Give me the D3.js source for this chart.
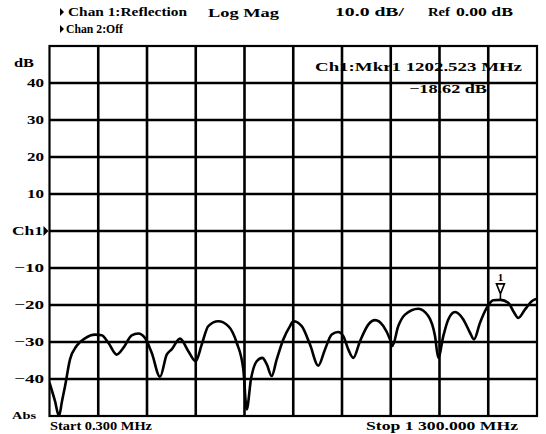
<!DOCTYPE html>
<html><head><meta charset="utf-8">
<script src="https://cdn.jsdelivr.net/npm/d3@7/dist/d3.min.js"></script>
<style>
body{margin:0;background:#fff}
text{font-family:"Liberation Serif","DejaVu Serif",serif;font-weight:bold;fill:#000}
</style>
</head><body>
<svg id="chart" width="546" height="434"></svg>
<script>
// Reflection trace, channel 1 (frequency in MHz, magnitude in dB)
const freqMHz = [0.3, 15, 25.6, 33.6, 41.6, 55, 72.8, 94.9, 121.6, 139.5, 157.1, 179.5, 197.1, 219.4, 237.0, 254.9,
  272.8, 294.9, 312.8, 326.1, 348.2, 370.4, 390.1, 406.1, 423.7, 450.3, 477.0, 499.4, 517.0, 526.1, 537.5,
  552.7, 567.6, 579.4, 592.7, 606.0, 623.6, 641.5, 650.3, 672.7, 694.8, 716.9, 734.8, 752.7, 770.2, 783.6,
  796.9, 810.2, 828.1, 850.2, 868.1, 890.2, 908.1, 914.2, 930.2, 948.1, 983.5, 1010.2, 1028.1, 1036.9,
  1050.2, 1063.5, 1081.4, 1103.6, 1121.4, 1132.1, 1148.1, 1165.9, 1183.5, 1202.523, 1223.5, 1236.9,
  1250.2, 1268.1, 1286.0, 1300];
const magDb = [-41, -46, -50, -46, -42, -34.7, -31, -29, -28, -28.2, -30.2, -33.4, -31.6, -28.2, -27.7, -28.9,
  -32.9, -39.4, -33.4, -32, -29.1, -32.5, -35.2, -30.7, -25.7, -24.4, -25.7, -30.2, -37.4, -48.2, -40,
  -35.2, -34.3, -36, -39.2, -34.7, -29.3, -25.7, -24.4, -25.7, -30.7, -36.4, -32, -28, -27.3, -28.4,
  -32, -34.3, -29.8, -25.3, -24.1, -25.7, -29.3, -31.1, -25.7, -22.6, -21, -23, -28.4, -34.3,
  -28.4, -23.9, -21.9, -23.9, -27.5, -29.3, -24.8, -20.8, -18.7, -18.62, -19.4, -21.7,
  -23.5, -21.2, -19, -18.3];

const yTicks = [40, 30, 20, 10, 0, -10, -20, -30, -40];
const yTickLabels = ["40", "30", "20", "10", "Ch1", "\u221210", "\u221220", "\u221230", "\u221240"];
const markerFreq = 1202.523;
const markerDb = -18.62;
const startMHz = 0.3, stopMHz = 1300;

const svg = d3.select("#chart");
const L = 49.5, R = 537, T = 46, B = 416;

const x = d3.scaleLinear().domain([startMHz, stopMHz]).range([L, R]);
const y = d3.scaleLinear().domain([-50, 50]).range([B, T]);

// bold, wide instrument-style label with a fixed advance
function label(g, tx, ty, str, len, size, anchor) {
  return g.append("text").attr("x", tx).attr("y", ty).attr("font-size", size || 12.5)
    .attr("text-anchor", anchor || "start")
    .attr("textLength", len).attr("lengthAdjust", "spacingAndGlyphs").text(str);
}

// graticule: 10 x 10 divisions
const xDiv = d3.range(11).map(i => startMHz + i * (stopMHz - startMHz) / 10);
const yDiv = d3.range(11).map(i => -50 + i * 10);

const grid = svg.append("g").attr("stroke", "#000").attr("stroke-width", 2.6);
grid.selectAll("line.v").data(xDiv.slice(1, -1)).join("line")
  .attr("x1", d => x(d)).attr("x2", d => x(d)).attr("y1", T).attr("y2", B);
grid.selectAll("line.h").data(yDiv.slice(1, -1)).join("line")
  .attr("y1", d => y(d)).attr("y2", d => y(d)).attr("x1", L).attr("x2", R);
svg.append("rect").attr("x", L).attr("y", T).attr("width", R - L).attr("height", B - T)
  .attr("fill", "none").attr("stroke", "#000").attr("stroke-width", 2.2);

// y labels
const yl = svg.append("g");
yTicks.forEach((d, i) => {
  const s = yTickLabels[i];
  if (s === "Ch1") label(yl, 12, y(d) + 4, s, 31);
  else label(yl, 44, y(d) + 4, s, s.length === 2 ? 17 : 30, 12.5, "end");
});
label(svg, 14, 67, "dB", 20);
label(svg, 12, B + 3, "Abs", 24, 11);
// reference-level pointer next to Ch1
svg.append("path").attr("d", `M${L - 6},${y(0) - 5}L${L - 1},${y(0)}L${L - 6},${y(0) + 5}Z`).attr("fill", "#000");

// trace
svg.append("clipPath").attr("id", "plotclip").append("rect")
  .attr("x", L).attr("y", T).attr("width", R - L).attr("height", B - T + 1);
const line = d3.line().x((d, i) => x(freqMHz[i])).y(d => y(d)).curve(d3.curveMonotoneX);
svg.append("path").datum(magDb).attr("d", line).attr("clip-path", "url(#plotclip)")
  .attr("fill", "none").attr("stroke", "#000").attr("stroke-width", 2.6).attr("stroke-linejoin", "round");

// marker 1
const mx = x(markerFreq), my = y(markerDb);
svg.append("path").attr("d", `M${mx - 4},${my - 16}L${mx + 4},${my - 16}L${mx},${my - 6}Z M${mx},${my - 6}L${mx},${my - 1}`)
  .attr("fill", "#fff").attr("stroke", "#000").attr("stroke-width", 1.6);
svg.append("text").attr("x", mx).attr("y", my - 19).attr("font-size", 11).attr("text-anchor", "middle").text("1");

// marker readout
label(svg, 315, 71, `Ch1:Mkr1 ${markerFreq.toFixed(3)} MHz`, 207);
label(svg, 409, 93, `\u2212${Math.abs(markerDb).toFixed(2)} dB`, 78);

// header
const hdr = svg.append("g");
const tri = (cx, cy) => `M${cx},${cy - 4}L${cx + 4},${cy}L${cx},${cy + 4}Z`;
hdr.append("path").attr("d", tri(60, 12)).attr("fill", "#000");
hdr.append("path").attr("d", tri(60, 29)).attr("fill", "#000");
label(hdr, 68, 16, "Chan 1:Reflection", 119);
label(hdr, 208, 17, "Log Mag", 71);
label(hdr, 335, 16, "10.0 dB/", 69);
label(hdr, 428, 16, "Ref", 22);
label(hdr, 456, 16, "0.00 dB", 57);
label(hdr, 66, 33, "Chan 2:Off", 57);

// footer
label(svg, 50, 430, `Start ${startMHz.toFixed(3)} MHz`, 102);
label(svg, 518, 430, `Stop ${stopMHz.toFixed(3).replace(/^1/, "1 ")} MHz`, 152, 12.5, "end");
</script>
</body></html>
